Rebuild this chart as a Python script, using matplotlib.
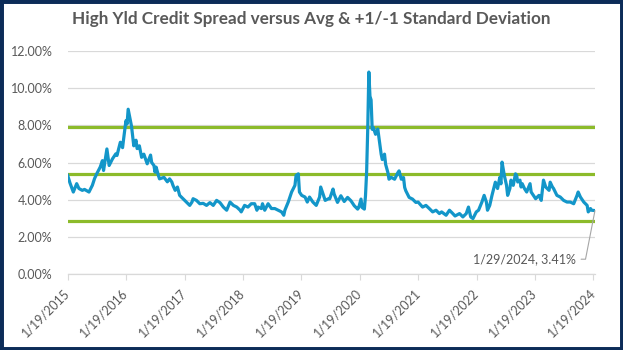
import numpy as np
import pandas as pd
import matplotlib
matplotlib.use("Agg")
import matplotlib.pyplot as plt
import matplotlib.dates as mdates
from matplotlib.patches import Rectangle

# Weekly offsets from 1/19/2015 and the high-yield credit spread (%) at each
weeks = [0, 2, 5, 8, 10, 13, 15, 17, 19, 22, 24, 26, 29, 31, 32, 35, 37, 40, 43, 44,
         47, 49, 50, 52, 53, 54, 56, 57, 59, 61, 62, 64, 66, 68, 71, 74, 75, 77, 78, 79,
         81, 82, 86, 89, 91, 93, 94, 96, 98, 100, 103, 106, 109, 111, 112, 115, 118, 121, 124, 127,
         130, 133, 136, 139, 142, 145, 148, 151, 154, 155, 158, 161, 164, 167, 169, 170, 173, 174, 176, 179,
         182, 185, 188, 191, 193, 194, 197, 200, 203, 204, 206, 207, 209, 212, 214, 216, 219, 222, 225, 226,
         230, 233, 234, 237, 238, 241, 244, 247, 250, 253, 256, 259, 260, 262, 263, 265, 266, 267, 268, 269,
         270, 271, 272, 273, 275, 277, 279, 280, 281, 283, 284, 286, 287, 289, 292, 295, 296, 298, 300, 301,
         302, 305, 308, 311, 313, 317, 320, 323, 326, 329, 332, 334, 338, 341, 344, 346, 350, 353, 356, 358,
         360, 362, 365, 367, 370, 372, 374, 375, 377, 379, 382, 384, 386, 387, 388, 390, 392, 393, 395, 396,
         398, 400, 401, 402, 404, 405, 406, 408, 410, 413, 414, 418, 421, 423, 424, 425, 427, 430, 431, 433,
         434, 437, 440, 443, 446, 449, 452, 455, 456, 458, 461, 464, 465, 467, 468, 471]

spread = [5.30, 4.90, 4.41, 4.86, 4.60, 4.50, 4.55, 4.48, 4.41, 4.77, 5.14, 5.40, 5.75, 6.10, 5.57, 6.73, 5.84, 6.20, 6.47, 6.38,
          7.09, 6.80, 7.30, 8.25, 8.07, 8.87, 8.25, 7.95, 6.90, 7.20, 6.75, 6.90, 6.28, 6.45, 5.93, 6.40, 6.00, 5.84, 5.48, 5.75,
          5.30, 5.12, 5.20, 4.96, 5.12, 4.95, 4.77, 4.50, 4.68, 4.23, 4.05, 3.87, 3.69, 3.87, 4.05, 3.96, 3.78, 3.80, 3.69, 3.84,
          3.69, 3.96, 3.84, 3.60, 3.43, 3.87, 3.69, 3.60, 3.43, 3.34, 3.69, 3.60, 3.78, 3.78, 3.43, 3.60, 3.52, 3.78, 3.43, 3.78,
          3.52, 3.52, 3.43, 3.34, 3.16, 3.43, 3.87, 4.41, 4.77, 5.30, 5.39, 4.41, 4.23, 4.14, 3.87, 4.14, 3.87, 3.69, 4.14, 4.68,
          3.96, 4.05, 4.04, 4.57, 4.30, 3.85, 4.21, 3.90, 4.12, 3.94, 3.67, 3.49, 3.58, 4.03, 3.58, 3.49, 4.20, 5.46, 7.79, 10.87,
          9.57, 9.37, 7.79, 7.88, 7.52, 7.80, 6.89, 6.45, 6.16, 6.45, 5.90, 5.46, 5.10, 5.20, 5.10, 5.46, 5.55, 5.10, 5.19, 4.66,
          4.48, 4.12, 4.03, 3.85, 3.87, 3.60, 3.69, 3.52, 3.34, 3.43, 3.25, 3.34, 3.16, 3.43, 3.25, 3.12, 3.25, 3.07, 3.25, 3.60,
          3.07, 2.98, 3.34, 3.43, 3.87, 4.23, 3.87, 3.43, 3.69, 4.23, 4.94, 4.60, 5.20, 4.85, 6.02, 5.31, 4.77, 4.23, 4.60, 5.05,
          4.77, 5.39, 5.31, 4.95, 5.05, 4.68, 4.86, 4.60, 4.41, 4.86, 4.41, 4.05, 4.23, 3.96, 4.50, 5.05, 4.68, 4.50, 4.94, 4.68,
          4.60, 4.23, 4.14, 3.96, 3.87, 3.87, 3.78, 4.23, 4.41, 4.14, 3.87, 3.69, 3.34, 3.52, 3.43, 3.41]

# Long-run average spread and one standard deviation either side
avg_spread = 5.37
std_spread = 2.53

start_date = "2015-01-19"
tick_labels = ["1/19/2015", "1/19/2016", "1/19/2017", "1/19/2018", "1/19/2019",
               "1/19/2020", "1/19/2021", "1/19/2022", "1/19/2023", "1/19/2024"]
y_ticks = [0, 2, 4, 6, 8, 10, 12]
last_label = "1/29/2024, 3.41%"

TEXT = "#595959"
GRID = "#d9d9d9"
LINE_BLUE = "#1396c9"
BAND_GREEN = "#8cbb2a"
FRAME = "#0c2c58"

plt.rcParams["font.family"] = ["Lato", "DejaVu Sans"]

dates = pd.Timestamp(start_date) + pd.to_timedelta(np.array(weeks) * 7, unit="D")
tick_dates = pd.to_datetime(tick_labels, format="%m/%d/%Y")

fig = plt.figure(figsize=(6.23, 3.5), dpi=100)
ax = fig.add_axes([0.1087, 0.2174, 0.8463, 0.6366])

for level in (avg_spread + std_spread, avg_spread, avg_spread - std_spread):
    ax.axhline(level, color=BAND_GREEN, lw=2.3, zorder=2)

ax.plot(dates, spread, color=LINE_BLUE, lw=2.3, zorder=3, solid_joinstyle="round")

ax.set_xlim(pd.Timestamp(start_date), dates[-1])
ax.set_ylim(0, 12)
ax.set_yticks(y_ticks)
ax.set_yticklabels([f"{v:.2f}%" for v in y_ticks])
ax.set_xticks(tick_dates)
ax.set_xticklabels(tick_labels, rotation=45, ha="right", va="center",
                   rotation_mode="anchor")

ax.grid(axis="y", color=GRID, lw=0.9, zorder=0)
ax.set_axisbelow(True)
for side in ("top", "right", "left"):
    ax.spines[side].set_visible(False)
ax.spines["bottom"].set_color(GRID)
ax.spines["bottom"].set_linewidth(0.9)
ax.tick_params(axis="y", length=0, pad=11, labelsize=9, labelcolor=TEXT)
ax.tick_params(axis="x", length=4, color=GRID, pad=8, labelsize=9, labelcolor=TEXT)

ax.annotate(last_label, xy=(mdates.date2num(dates[-1]), spread[-1]),
            xytext=(-14, -35), textcoords="offset points",
            ha="right", va="center", fontsize=9, color=TEXT,
            arrowprops=dict(arrowstyle="-", color="#a6a6a6", lw=0.8,
                            shrinkA=2, shrinkB=0,
                            connectionstyle="angle,angleA=0,angleB=79,rad=0"))

fig.text(0.5, 0.947, "High Yld Credit Spread versus Avg & +1/-1 Standard Deviation",
         ha="center", va="center", fontsize=12.3, fontweight="bold", color=TEXT)

fig.patches.append(Rectangle((0, 0), 1, 1, transform=fig.transFigure, fill=False,
                             edgecolor=FRAME, linewidth=5, zorder=10))

fig.savefig("out.png", dpi=100)
